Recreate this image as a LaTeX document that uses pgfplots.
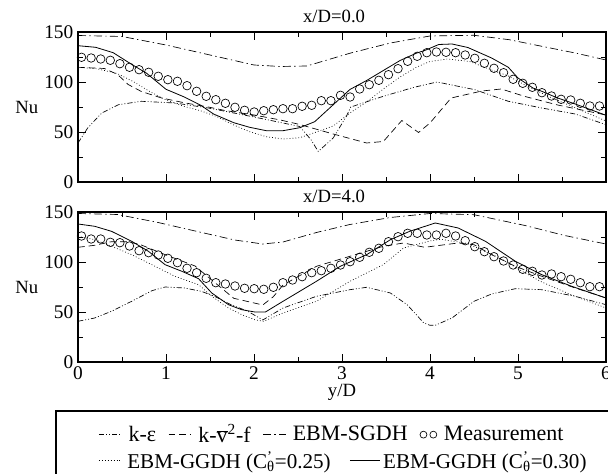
\documentclass[border=0pt]{standalone}
\usepackage{pgfplots}
\usepackage{pgfplotstable}
\pgfplotsset{compat=1.18}
\usepackage{fontspec}
\setmainfont{Liberation Serif}

\pgfplotstableread{
x top bot
0.040 124.7 126.0
0.149 124.0 123.0
0.258 123.0 123.0
0.367 121.7 119.7
0.476 118.3 119.3
0.585 114.7 116.0
0.694 112.3 111.3
0.803 109.7 109.3
0.912 105.7 107.0
1.021 102.3 103.7
1.130 100.7 99.3
1.239 96.3 93.7
1.348 90.7 89.3
1.457 85.7 83.7
1.566 82.3 79.3
1.675 78.7 78.0
1.784 74.7 76.0
1.893 71.7 73.7
2.002 70.0 73.3
2.111 71.3 72.7
2.220 72.3 74.7
2.329 73.3 79.3
2.438 73.3 82.0
2.547 75.7 85.3
2.656 76.7 89.3
2.765 81.3 91.3
2.874 81.3 93.7
2.983 86.7 97.0
3.092 85.0 100.3
3.201 93.0 104.7
3.310 97.3 109.7
3.419 101.7 113.7
3.528 107.3 120.3
3.637 113.3 125.3
3.746 120.7 128.7
3.855 125.7 128.7
3.964 129.3 127.0
4.073 130.0 127.0
4.182 129.7 128.7
4.291 129.3 126.0
4.400 127.0 121.3
4.509 123.7 115.3
4.618 118.7 110.3
4.727 113.7 105.3
4.836 109.3 101.0
4.945 102.7 97.0
5.054 98.7 92.7
5.163 94.7 90.7
5.272 89.3 87.0
5.381 86.0 88.0
5.490 82.7 85.3
5.599 82.0 82.7
5.708 78.7 79.3
5.817 76.0 75.3
5.926 76.0 75.3
}\meas

\pgfplotsset{
  kestyle/.style={black, line width=0.5pt, dash pattern=on 4pt off 1.5pt on 0.7pt off 1.5pt on 0.7pt off 1.5pt},
  v2fstyle/.style={black, line width=0.5pt, dash pattern=on 5pt off 3pt},
  sgdhstyle/.style={black, line width=0.5pt, dash pattern=on 6pt off 2.5pt on 1pt off 2.5pt},
  g25style/.style={black, line width=0.5pt, dash pattern=on 0.6pt off 1.6pt},
  g30style/.style={black, line width=0.6pt},
  measstyle/.style={black, only marks, mark=o, mark size=3.2pt, mark options={line width=0.5pt, solid}},
  panel/.style={
    scale only axis, width=396pt, height=112.5pt,
    xmin=0, xmax=6, ymin=0, ymax=150,
    xtick={0,1,2,3,4,5,6}, ytick={0,50,100,150},
    minor x tick num=1, minor y tick num=1,
    tick align=inside, major tick length=6pt, minor tick length=3.5pt,
    axis line style={line width=0.9pt},
    every tick/.style={black, line width=0.6pt},
    tick label style={font=\fontsize{14.5}{16}\selectfont},
    label style={font=\fontsize{14}{16}\selectfont},
    /pgf/number format/assume math mode=true,
    ylabel={Nu},
    ylabel style={rotate=-90, at={(axis description cs:-0.097,0.5)}, anchor=center},
    title style={at={(0.485,1)}, anchor=south, inner sep=1pt, font=\fontsize{14}{16}\selectfont},
  },
}

\begin{document}
\begin{tikzpicture}
\path[use as bounding box, clip] (0,0) rectangle (456pt,355.5pt);

% ---------- top panel ----------
\begin{axis}[panel, at={(58.5pt,219pt)}, anchor=south west,
  xticklabels={}, title={x/D=0.0}]
\addplot[sgdhstyle] table {
0 146.5
0.5 145.5
1.0 137
1.5 127
2.0 117
2.3 115.5
2.6 116
3.1 129
3.55 139
4.0 146
4.5 146.7
4.9 142.3
5.27 135.7
5.65 129
6.0 122
};
\addplot[kestyle] table {
0 39
0.11 54
0.27 69
0.46 77.3
0.72 80.7
1.1 79
1.48 74
2.0 65
2.33 59
2.52 55.5
2.65 42
2.73 30.5
2.9 44
3.05 65.7
3.1 75
3.47 85.7
3.81 94.5
4.08 100
4.51 92.3
4.89 80.7
5.27 74
5.65 68
6.0 57.3
};
\addplot[v2fstyle] table {
0 114.7
0.3 113.5
0.45 107.5
0.57 97.5
0.72 90.5
0.95 84
1.22 79
1.48 75
1.67 71.5
2.0 67
2.3 62
2.52 57.5
2.9 48
3.28 39
3.47 40.5
3.68 61.5
3.87 49.5
4.0 59
4.24 84
4.59 91
4.81 93
5.08 85.5
5.45 77
6.0 67
};
\addplot[g25style] table {
0 114.7
0.21 113.3
0.44 108.7
0.63 100.3
0.82 90.3
1.0 82
1.19 76
1.39 71.3
1.58 65.3
1.77 57
1.95 50.3
2.14 45.3
2.33 43
2.52 44.3
2.71 50
2.9 56
3.09 69
3.28 80
3.47 93
3.66 105
3.85 115
4.0 120.5
4.2 123
4.45 120.5
4.7 112
4.89 106
5.08 97
5.36 85
5.63 75
6.0 61
};
\addplot[g30style] table {
0 136.3
0.2 134.7
0.4 129.3
0.59 118.7
0.78 108.7
1.0 92.7
1.2 85.3
1.39 77
1.54 68
1.77 59.3
1.95 54.7
2.14 51.3
2.33 51.3
2.52 54.3
2.69 60.3
3.09 92.5
3.28 101.5
3.66 121.5
3.85 129
3.94 131.5
4.1 137.5
4.25 138
4.43 134.5
4.7 124
4.89 114.7
5.0 104
5.17 94
5.27 90.7
5.45 84
5.65 78
6.0 66.7
};
\addplot[measstyle] table[x=x, y=top] {\meas};
\end{axis}

% ---------- bottom panel ----------
\begin{axis}[panel, at={(58.5pt,84pt)}, anchor=south west,
  title={x/D=4.0}, xlabel={y/D},
  xlabel style={inner sep=1pt, yshift=1pt}]
\addplot[sgdhstyle] table {
0 148.5
0.45 147.5
0.91 139.5
1.48 128
1.78 122
2.1 118
2.33 120
2.71 129.5
3.09 137.5
3.55 144.5
4.0 148.5
4.5 147.3
5.08 136.5
5.53 126.5
6.0 118
};
\addplot[kestyle] table {
0 40.7
0.19 44
0.38 50.7
0.61 60.7
0.84 71.3
0.99 75
1.21 74
1.4 70.7
1.55 65.7
1.74 57.3
1.93 50.7
2.1 42
2.33 54
2.71 65.7
3.09 72.3
3.28 74.7
3.55 69
3.74 57.3
3.93 39
4.0 36.7
4.06 36.7
4.25 44
4.5 60.7
4.7 68
4.97 73.3
5.27 72.3
5.65 65.7
6.0 57.3
};
\addplot[v2fstyle] table {
0 114.7
0.19 116.7
0.38 120.3
0.55 120.3
0.7 117.7
1.0 107
1.33 96
1.52 82
1.77 63.7
2.1 57
2.22 65.3
2.33 77
2.71 95.7
3.09 105.7
3.47 115.7
3.7 119
3.94 114.7
4.32 119
4.5 117.3
4.7 107.3
4.97 95.7
5.27 85.7
5.65 74
6.0 64
};
\addplot[g25style] table {
0 125.7
0.19 122.3
0.38 115.7
0.61 107.3
0.84 97.3
1.1 85.7
1.37 77.3
1.52 65.7
1.71 54
1.86 47.3
2.01 42.3
2.11 40.7
2.33 49
2.71 60.7
3.09 80.7
3.47 97.3
3.7 114
4.0 121
4.12 122.7
4.42 118.7
4.8 103.7
5.08 89
5.27 80
5.61 67
6.0 54
};
\addplot[g30style] table {
0 138
0.19 135.7
0.38 130.7
0.61 120.7
0.8 110.7
0.99 97.3
1.18 90.7
1.37 83.3
1.52 69
1.71 57.3
1.86 52.3
2.01 50
2.13 50
2.33 60.7
2.71 80.7
2.98 95.7
3.28 107.3
3.55 122.3
3.77 130.7
4.06 139
4.32 134
4.63 120.7
4.97 100.7
5.27 87.3
5.61 75.7
6.0 64
};
\addplot[measstyle] table[x=x, y=bot] {\meas};
\end{axis}

% ---------- legend box ----------
\draw[black, line width=0.8pt] (42pt,-5pt) rectangle (470pt,47.25pt);

% ---------- legend row 1 ----------
\begin{axis}[at={(0,0)}, anchor=south west, scale only axis,
  width=456pt, height=355.5pt, hide axis,
  xmin=0, xmax=1, ymin=0, ymax=1,
  legend columns=4,
  legend style={at={(0.1595,0.083)}, anchor=west, draw=none, fill=none,
    font=\fontsize{16.5}{18}\selectfont, inner sep=1pt,
    /tikz/every odd column/.append style={column sep=3pt},
    /tikz/every even column/.append style={column sep=7pt}},
  legend cell align=left]
\addlegendimage{kestyle}
\addlegendentry{k-ε}
\addlegendimage{v2fstyle}
\addlegendentry{k-$\overline{\hbox{v}}$\textsuperscript{2}-f}
\addlegendimage{sgdhstyle}
\addlegendentry{EBM-SGDH}
\addlegendimage{measstyle, legend image code/.code={\draw[black, line width=0.5pt] (0.1cm,0cm) circle (2.6pt) (0.36cm,0cm) circle (2.6pt);}}
\addlegendentry{Measurement}
\end{axis}

% ---------- legend row 2 ----------
\begin{axis}[at={(0,0)}, anchor=south west, scale only axis,
  width=456pt, height=355.5pt, hide axis,
  xmin=0, xmax=1, ymin=0, ymax=1,
  legend columns=2,
  legend style={at={(0.1595,0.028)}, anchor=west, draw=none, fill=none,
    font=\fontsize{15.8}{18}\selectfont, inner sep=1pt,
    /tikz/every odd column/.append style={column sep=2pt},
    /tikz/every even column/.append style={column sep=12pt}},
  legend cell align=left]
\addlegendimage{g25style}
\addlegendentry{EBM-GGDH (C\rlap{\textsuperscript{’}}\textsubscript{θ}=0.25)}
\addlegendimage{g30style, legend image code/.code={\draw[black, line width=0.6pt] (0cm,0cm) -- (0.8cm,0cm);}}
\addlegendentry{\hspace*{-2pt}EBM-GGDH (C\rlap{\textsuperscript{’}}\textsubscript{θ}=0.30)}
\end{axis}
\end{tikzpicture}
\end{document}
